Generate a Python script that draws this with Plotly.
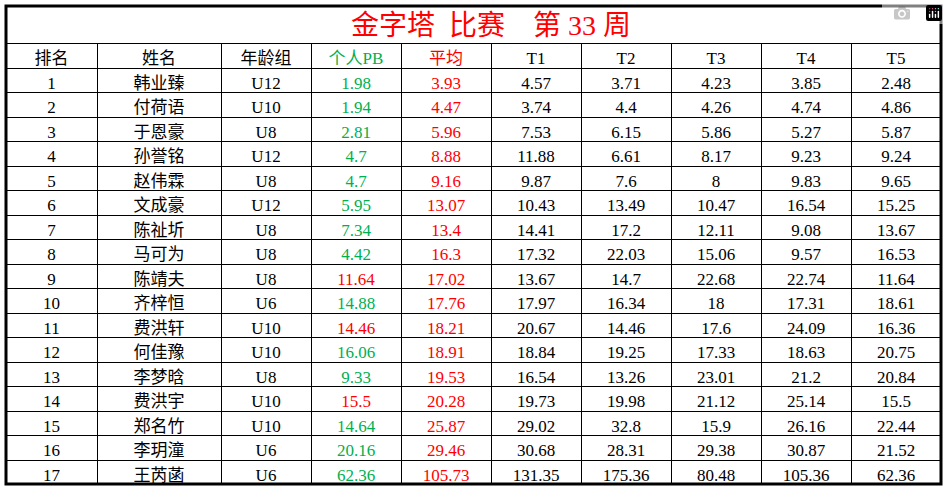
import plotly.graph_objects as go

rank = list(range(1, 18))
names = ["韩业臻","付荷语","于恩豪","孙誉铭","赵伟霖","文成豪","陈祉圻","马可为","陈靖夫","齐梓恒","费洪轩","何佳豫","李梦晗","费洪宇","郑名竹","李玥潼","王芮菡"]
groups = ["U12","U10","U8","U12","U8","U12","U8","U8","U8","U6","U10","U10","U8","U10","U10","U6","U6"]
pb = ["1.98","1.94","2.81","4.7","4.7","5.95","7.34","4.42","11.64","14.88","14.46","16.06","9.33","15.5","14.64","20.16","62.36"]
pb_new = [1,1,1,1,1,1,1,1,0,1,0,1,1,0,1,1,1]
avg = ["3.93","4.47","5.96","8.88","9.16","13.07","13.4","16.3","17.02","17.76","18.21","18.91","19.53","20.28","25.87","29.46","105.73"]
t1 = ["4.57","3.74","7.53","11.88","9.87","10.43","14.41","17.32","13.67","17.97","20.67","18.84","16.54","19.73","29.02","30.68","131.35"]
t2 = ["3.71","4.4","6.15","6.61","7.6","13.49","17.2","22.03","14.7","16.34","14.46","19.25","13.26","19.98","32.8","28.31","175.36"]
t3 = ["4.23","4.26","5.86","8.17","8","10.47","12.11","15.06","22.68","18","17.6","17.33","23.01","21.12","15.9","29.38","80.48"]
t4 = ["3.85","4.74","5.27","9.23","9.83","16.54","9.08","9.57","22.74","17.31","24.09","18.63","21.2","25.14","26.16","30.87","105.36"]
t5 = ["2.48","4.86","5.87","9.24","9.65","15.25","13.67","16.53","11.64","18.61","16.36","20.75","20.84","15.5","22.44","21.52","62.36"]
headers = ["排名","姓名","年龄组","个人PB","平均","T1","T2","T3","T4","T5"]
title = "金字塔  比赛    第 33 周"

GREEN = "#00B050"; RED = "#FF0000"; BLACK = "#000000"
FONT = "Liberation Serif, Noto Sans CJK SC"
n = len(rank)
pb_colors = [GREEN if p else RED for p in pb_new]
col_colors = [[BLACK]*n, [BLACK]*n, [BLACK]*n, pb_colors, [RED]*n] + [[BLACK]*n]*5
head_colors = [BLACK, BLACK, BLACK, GREEN, RED] + [BLACK]*5

H = 490 - 12
split = 1 - 37 / H

fig = go.Figure()
fig.add_trace(go.Table(
    header=dict(values=["     " + title], height=37, align="center", fill_color="white",
                line=dict(color="black", width=1),
                font=dict(family=FONT, size=28, color=RED)),
    cells=dict(values=[[]], height=1, fill_color="white", line=dict(width=0)),
    domain=dict(x=[0, 1], y=[split, 1]),
))
fig.add_trace(go.Table(
    columnwidth=[91,124,90,90,90,90,90,90,90,90],
    header=dict(values=headers, height=25, align="center", fill_color="white",
                line=dict(color="black", width=1),
                font=dict(family=FONT, size=17, color=head_colors)),
    cells=dict(values=[rank, names, groups, pb, avg, t1, t2, t3, t4, t5],
               height=24.5, align="center", fill_color="white",
               line=dict(color="black", width=1),
               font=dict(family=FONT, size=17, color=col_colors)),
    domain=dict(x=[0, 1], y=[0, split]),
))
fig.add_shape(type="rect", xref="paper", yref="paper", x0=0, x1=1, y0=0, y1=1,
              line=dict(color="black", width=3))
fig.update_layout(width=948, height=490, margin=dict(l=6, r=7, t=6, b=6),
                  paper_bgcolor="white")
fig.write_html("out.html", post_script="document.body.style.margin='0';")
